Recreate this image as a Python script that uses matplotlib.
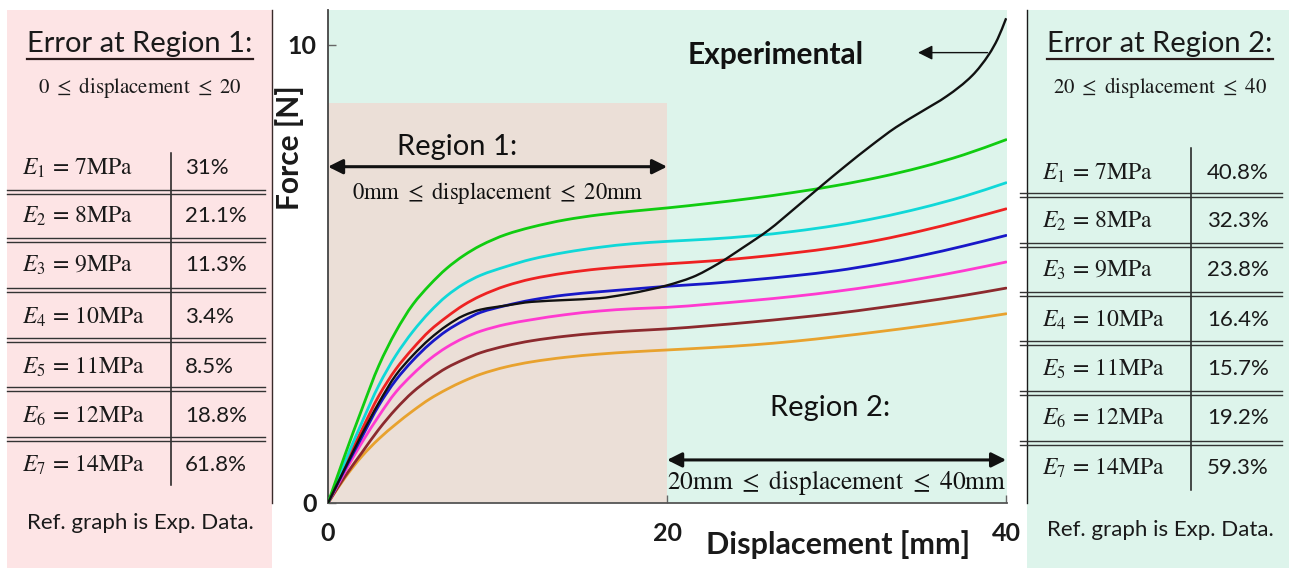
import numpy as np
import matplotlib
matplotlib.use("Agg")
import matplotlib.pyplot as plt
from matplotlib.patches import Rectangle, PathPatch
from matplotlib.path import Path

plt.rcParams['font.family'] = ['Lato', 'DejaVu Sans']
plt.rcParams['mathtext.fontset'] = 'stix'

# ---------------- data ----------------
disp = [0, 1, 2, 3, 4, 5, 6, 7, 8, 9, 10.5, 12, 14, 16, 18, 20,
        22.5, 25, 27.5, 30, 32.5, 35, 37.5, 40]

force_e7 = [0, 1.05, 2.05, 3.00, 3.74, 4.33, 4.76, 5.12, 5.40, 5.62, 5.86, 6.02,
            6.18, 6.29, 6.37, 6.44, 6.54, 6.65, 6.78, 6.93, 7.11, 7.33, 7.60, 7.93]
force_e6 = [0, 0.90, 1.76, 2.57, 3.22, 3.74, 4.17, 4.52, 4.78, 4.97, 5.16, 5.32,
            5.47, 5.58, 5.66, 5.71, 5.76, 5.83, 5.93, 6.06, 6.23, 6.44, 6.69, 6.99]
force_e5 = [0, 0.82, 1.60, 2.34, 2.92, 3.37, 3.76, 4.06, 4.32, 4.52, 4.74, 4.89,
            5.02, 5.11, 5.17, 5.22, 5.28, 5.36, 5.46, 5.58, 5.74, 5.94, 6.17, 6.42]
force_e4 = [0, 0.74, 1.44, 2.13, 2.68, 3.11, 3.47, 3.76, 3.98, 4.16, 4.31, 4.43,
            4.54, 4.61, 4.67, 4.73, 4.79, 4.87, 4.96, 5.07, 5.22, 5.40, 5.61, 5.84]
force_e3 = [0, 0.68, 1.32, 1.90, 2.42, 2.81, 3.14, 3.40, 3.60, 3.75, 3.90, 4.00,
            4.11, 4.19, 4.24, 4.27, 4.34, 4.42, 4.51, 4.62, 4.75, 4.90, 5.07, 5.26]
force_e2 = [0, 0.58, 1.10, 1.61, 2.05, 2.42, 2.71, 2.95, 3.13, 3.28, 3.43, 3.54,
            3.64, 3.71, 3.76, 3.80, 3.87, 3.95, 4.04, 4.14, 4.26, 4.39, 4.53, 4.69]
force_e1 = [0, 0.55, 1.02, 1.40, 1.72, 2.01, 2.27, 2.48, 2.66, 2.81, 2.97, 3.08,
            3.18, 3.25, 3.30, 3.34, 3.39, 3.45, 3.53, 3.63, 3.74, 3.86, 3.99, 4.13]

disp_exp = [0, 1, 2, 3, 4, 5, 6, 7, 8, 9, 10.5, 12, 14, 16, 17.5, 19, 20, 21.5,
            23, 24.5, 26, 27.5, 29, 30.5, 32, 33.5, 35, 36.5, 38, 39, 39.5, 40]
force_exp = [0, 0.76, 1.50, 2.19, 2.79, 3.22, 3.58, 3.87, 4.09, 4.22, 4.31, 4.39,
             4.43, 4.47, 4.55, 4.66, 4.75, 4.93, 5.22, 5.58, 5.96, 6.42, 6.89, 7.35,
             7.79, 8.20, 8.54, 8.88, 9.33, 9.80, 10.13, 10.58]

moduli = [7, 8, 9, 10, 11, 12, 14]
err_region1 = ['31%', '21.1%', '11.3%', '3.4%', '8.5%', '18.8%', '61.8%']
err_region2 = ['40.8%', '32.3%', '23.8%', '16.4%', '15.7%', '19.2%', '59.3%']

x_ticks = [0, 20, 40]
y_ticks = [0, 10]


def smooth_path(x, y):
    """Monotone cubic (Fritsch-Carlson) path through the given points."""
    x = np.asarray(x, float)
    y = np.asarray(y, float)
    h = np.diff(x)
    d = np.diff(y) / h
    m = np.empty_like(x)
    m[0], m[-1] = d[0], d[-1]
    for i in range(1, len(x) - 1):
        if d[i - 1] * d[i] <= 0:
            m[i] = 0.0
        else:
            w1 = 2 * h[i] + h[i - 1]
            w2 = h[i] + 2 * h[i - 1]
            m[i] = (w1 + w2) / (w1 / d[i - 1] + w2 / d[i])
    verts = [(x[0], y[0])]
    codes = [Path.MOVETO]
    for i in range(len(x) - 1):
        verts += [(x[i] + h[i] / 3, y[i] + m[i] * h[i] / 3),
                  (x[i + 1] - h[i] / 3, y[i + 1] - m[i + 1] * h[i] / 3),
                  (x[i + 1], y[i + 1])]
        codes += [Path.CURVE4] * 3
    return Path(verts, codes)


# ---------------- figure ----------------
W, H = 1289, 568
fig = plt.figure(figsize=(W / 100, H / 100), dpi=100)

bg = fig.add_axes([0, 0, 1, 1], zorder=0)
bg.set_xlim(0, W)
bg.set_ylim(H, 0)
bg.axis('off')

pink = '#fde4e5'
mint = '#ddf4eb'
sand = '#ebdfd7'
ink = '#1a1a1a'

# side panels
bg.add_patch(Rectangle((7, 10), 265, H - 10, color=pink, lw=0))
bg.add_patch(Rectangle((1027, 10), 262, H - 10, color=mint, lw=0))
bg.plot([272, 272], [10, 503], color='#3a2a2a', lw=1)
bg.plot([1027, 1027], [10, 503], color=ink, lw=1)


def error_table(x0, x1, xdiv, xlabel, xval, title_x, row_y, line_y, vtop, vbot,
                title, subtitle, ref_y, errs):
    bg.text(title_x, 52, title, ha='center', va='baseline', fontsize=21,
            color=ink)
    bg.plot([title_x - 113, title_x + 113], [59, 59], color='#2a1a1a', lw=1.6)
    bg.text(title_x, 87, subtitle, ha='center', va='center', fontsize=15,
            color=ink)
    bg.plot([xdiv, xdiv], [vtop, vbot], color=ink, lw=1.1)
    for yl in line_y:
        for dy in (-1.6, 1.6):
            bg.plot([x0, x1], [yl + dy, yl + dy], color='#333333', lw=1.0)
    for i, (m, e) in enumerate(zip(moduli, errs)):
        bg.text(xlabel, row_y[i], r'$E_{%d}\,=\,%d\mathrm{MPa}$' % (i + 1, m),
                ha='left', va='center', fontsize=17, color=ink)
        bg.text(xval, row_y[i], e, ha='left', va='center', fontsize=16,
                color=ink)
    bg.text(title_x, ref_y, 'Ref. graph is Exp. Data.', ha='center', va='center',
            fontsize=16, color=ink)


error_table(7, 265, 171, 22, 185, 140,
            [168, 216, 265, 317, 367, 416, 465],
            [192, 240, 290, 340, 389, 439], 153, 485,
            'Error at Region 1:', r'$0\ \leq\ \mathrm{displacement}\ \leq\ 20$', 523,
            err_region1)
error_table(1020, 1282, 1191, 1042, 1207, 1160,
            [173, 221, 270, 320, 369, 418, 468],
            [195, 245, 294, 343, 393, 443], 148, 490,
            'Error at Region 2:', r'$20\ \leq\ \mathrm{displacement}\ \leq\ 40$', 530,
            err_region2)

# axis titles
bg.text(290, 148, 'Force [N]', rotation=90, ha='center', va='center',
        fontsize=21.5, fontweight='bold', color=ink)
bg.text(838, 545, 'Displacement [mm]', ha='center', va='center',
        fontsize=22, fontweight='bold', color=ink)

# ---------------- main chart ----------------
ax = fig.add_axes([328 / W, (H - 503) / H, 679 / W, 493 / H], zorder=1)
ax.set_facecolor(mint)
ax.set_xlim(0, 40.05)
ax.set_ylim(0, 10.76)
ax.add_patch(Rectangle((0, 0), 20, 8.73, color=sand, lw=0, zorder=0))

for s in ('top', 'right'):
    ax.spines[s].set_visible(False)
ax.spines['left'].set_color('#444444')
ax.spines['bottom'].set_color('#555555')
ax.spines['left'].set_linewidth(1.3)
ax.spines['bottom'].set_linewidth(1.3)

ax.set_xticks(x_ticks)
ax.set_yticks(y_ticks)
ax.tick_params(direction='in', length=6, width=1, colors='#666666',
               labelcolor=ink, labelsize=18)
ax.tick_params(axis='x', pad=14)
ax.tick_params(axis='y', pad=8)
for lab in ax.get_xticklabels() + ax.get_yticklabels():
    lab.set_fontweight('bold')

series = [(force_e1, '#e8a22e'), (force_e2, '#8c2a2e'), (force_e3, '#ff3ad0'),
          (force_e4, '#1818c8'), (force_e5, '#ee2222'), (force_e6, '#10d8d8'),
          (force_e7, '#10cc10')]
for f, c in series:
    ax.add_patch(PathPatch(smooth_path(disp, f), fill=False, edgecolor=c,
                           lw=2.0, capstyle='round', zorder=3))
ax.add_patch(PathPatch(smooth_path(disp_exp, force_exp), fill=False,
                       edgecolor='#111111', lw=1.7, zorder=4))

# annotations
ax.text(26.4, 9.78, 'Experimental', ha='center', va='center', fontsize=21.5,
        fontweight='bold', color='#111111')
ax.annotate('', xy=(34.8, 9.83), xytext=(38.9, 9.83),
            arrowprops=dict(arrowstyle='-|>', color='#111111', lw=1.0,
                            mutation_scale=22, shrinkA=0, shrinkB=0))

ax.text(7.6, 7.77, 'Region 1:', ha='center', va='center', fontsize=21,
        color='#111111')
ax.annotate('', xy=(0, 7.34), xytext=(20, 7.34),
            arrowprops=dict(arrowstyle='<|-|>', color='#111111', lw=2.2,
                            mutation_scale=22, shrinkA=0, shrinkB=0))
ax.text(10.0, 6.77,
        r'$0\mathrm{mm}\ \leq\ \mathrm{displacement}\ \leq\ 20\mathrm{mm}$',
        ha='center', va='center', fontsize=16.3, color='#111111')

ax.text(29.6, 2.07, 'Region 2:', ha='center', va='center', fontsize=21,
        color='#111111')
ax.annotate('', xy=(20, 0.94), xytext=(40, 0.94),
            arrowprops=dict(arrowstyle='<|-|>', color='#111111', lw=2.2,
                            mutation_scale=22, shrinkA=0, shrinkB=0))
ax.text(30.0, 0.44,
        r'$20\mathrm{mm}\ \leq\ \mathrm{displacement}\ \leq\ 40\mathrm{mm}$',
        ha='center', va='center', fontsize=18.3, color='#111111')

fig.savefig('out.png', dpi=100)
